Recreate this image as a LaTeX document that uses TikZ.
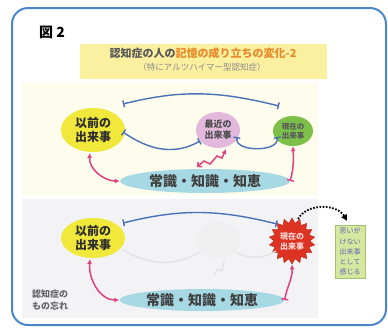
\documentclass[tikz,border=0pt]{standalone}
\usepackage{fontspec}
\setmainfont{Noto Sans CJK JP}
\usetikzlibrary{shapes.geometric,shapes.symbols,arrows.meta}
\definecolor{frameblue}{HTML}{4A86C8}
\definecolor{arcblue}{HTML}{4A72B8}
\definecolor{pinkarr}{HTML}{E0407F}
\definecolor{yel}{HTML}{F0E83A}
\definecolor{pinkev}{HTML}{E2B8DC}
\definecolor{greenev}{HTML}{7CC04A}
\definecolor{cyanev}{HTML}{A6D9E3}
\definecolor{redburst}{HTML}{DD3322}
\definecolor{boxgreen}{HTML}{D6E8A0}
\definecolor{boxedge}{HTML}{A8C070}
\definecolor{textdark}{HTML}{2E2E2E}
\definecolor{titlebg}{HTML}{FBEFA0}
\definecolor{titleor}{HTML}{E8892A}
\definecolor{panelA}{HTML}{FEFCEC}
\definecolor{panelB}{HTML}{F3F3F5}
\definecolor{ghost}{HTML}{E4E4E4}
\tikzset{
  ev/.style={ellipse, inner sep=0pt, align=center, font=\bfseries, text=textdark},
  bluearc/.style={draw=arcblue, line width=1.4pt, {Bar[width=7pt]}-{Bar[width=7pt]}},
  pinkline/.style={draw=pinkarr, line width=1.5pt},
  ghostline/.style={draw=ghost, line width=1.6pt},
}
\begin{document}
\begin{tikzpicture}[x=1pt,y=1pt]
\useasboundingbox (0,0) rectangle (388,-330);
\fill[white] (0,0) rectangle (388,-330);
% panels
\fill[panelA] (22,-83) rectangle (318,-195);
\fill[panelB] (22,-199) rectangle (318,-318);
% frame
\draw[line width=2pt, frameblue, rounded corners=16pt] (12,-8) rectangle (386,-325);
\node[font=\bfseries\fontsize{14}{16}\selectfont, text=black] (fig) at (52,-32) {図 2};
% title
\fill[titlebg] (80,-44) rectangle (327,-79);
\node[font=\bfseries\fontsize{11}{13}\selectfont, text=textdark!80] (title) at (203,-53)
  {認知症の人の\textcolor{titleor}{記憶の成り立ちの変化-2}};
\node[font=\fontsize{8.5}{10}\selectfont, text=black!45] (sub) at (202,-67)
  {（特にアルツハイマー型認知症）};

% ===== upper panel =====
\node[ev, fill=yel, minimum width=64pt, minimum height=44pt, font=\bfseries\fontsize{12}{14}\selectfont] (A1) at (93,-130) {以前の\\出来事};
\node[ev, fill=pinkev, minimum width=44pt, minimum height=36pt, font=\bfseries\fontsize{9}{11}\selectfont, text=black!70] (B1) at (218,-130) {最近の\\出来事};
\node[ev, fill=greenev, minimum width=40pt, minimum height=30pt, font=\bfseries\fontsize{7.5}{9}\selectfont, text=black!65] (C1) at (293,-131) {現在の\\出来事};
\node[ev, fill=cyanev, minimum width=170pt, minimum height=24pt, font=\bfseries\fontsize{14}{16}\selectfont, text=black!75] (D1) at (205,-181) {常識・知識・知恵};

\draw[bluearc] ([shift={(30,26)}]A1.center) to[out=14,in=166] ([shift={(-14,25)}]C1.center);
\draw[bluearc] ([shift={(30,-2)}]A1.center) to[out=-35,in=-150] ([shift={(-18,-11)}]B1.center);
\draw[bluearc] ([shift={(19,-7)}]B1.center) to[out=-100,in=-80] ([shift={(-16,-6)}]C1.center);

\draw[pinkline, {Latex[length=5pt,width=5pt]}-{Latex[length=5pt,width=5pt]}] ([shift={(-3,-23)}]A1.center) to[out=-95,in=180] (D1.west);
\draw[pinkline, {Bar[width=7pt]}-{Latex[length=5pt,width=5pt]}] (D1.east) to[out=75,in=-88] (C1.south);
\draw[pinkline, {Straight Barb[length=3pt,width=6pt]}-{Latex[length=5pt,width=5pt]}]
  ([shift={(-21,-37)}]B1.center) -- ++(7,6) -- ++(6,-3) -- ++(7,8) -- ++(5,-2) -- ([shift={(8,-19)}]B1.center);

% ===== lower panel =====
\node[ellipse, fill=ghost!60, minimum width=44pt, minimum height=36pt] (B2) at (218,-240) {};
\node[ev, fill=yel, minimum width=64pt, minimum height=40pt, font=\bfseries\fontsize{12}{14}\selectfont] (A2) at (93,-238) {以前の\\出来事};
\node[starburst, starburst points=18, starburst point height=5pt, random starburst=0, fill=redburst, draw=redburst!80!black, line width=0.4pt, minimum width=46pt, minimum height=46pt, inner sep=0pt, align=center, font=\bfseries\fontsize{8}{10}\selectfont, text=red!15] (C2) at (292,-241) {現在の\\出来事};
\node[ev, fill=cyanev, minimum width=165pt, minimum height=22pt, font=\bfseries\fontsize{14}{16}\selectfont, text=black!75] (D2) at (202,-300) {常識・知識・知恵};

\draw[ghostline] ([shift={(30,-12)}]A2.center) to[out=-30,in=-150] ([shift={(-18,-12)}]B2.center);
\draw[ghostline] ([shift={(18,-12)}]B2.center) to[out=-30,in=-150] ([shift={(-16,-10)}]C2.center);
\draw[ghostline] ([shift={(-4,-35)}]B2.center) -- ++(4,6) -- ++(4,-2) -- ++(2,10);

\draw[bluearc] ([shift={(30,15)}]A2.center) to[out=14,in=166] ([shift={(-15,17)}]C2.center);

\draw[pinkline, {Latex[length=5pt,width=5pt]}-{Latex[length=5pt,width=5pt]}] ([shift={(-3,-21)}]A2.center) to[out=-95,in=180] (D2.west);
\draw[pinkline, {Bar[width=7pt]}-{Latex[length=5pt,width=5pt]}] (D2.east) to[out=80,in=-88] (C2.south);

% box
\node[draw=boxedge, fill=boxgreen, minimum width=30pt, minimum height=53pt, inner sep=0pt, align=center, font=\fontsize{7}{10.2}\selectfont, text=black!50!blue!60] (G) at (350,-251.5) {思いが\\けない\\出来事\\として\\感じる};
\draw[black, line width=1.8pt, dash pattern=on 1.6pt off 1.6pt, -{Triangle[length=6pt,width=6pt]}] ([shift={(6,22)}]C2.center) to[out=60,in=120] ([shift={(-3,4)}]G.north);

\node[font=\bfseries\fontsize{9}{12}\selectfont, text=black!60, align=left] (note) at (50,-300) {認知症の\\もの忘れ};
\end{tikzpicture}
\end{document}
